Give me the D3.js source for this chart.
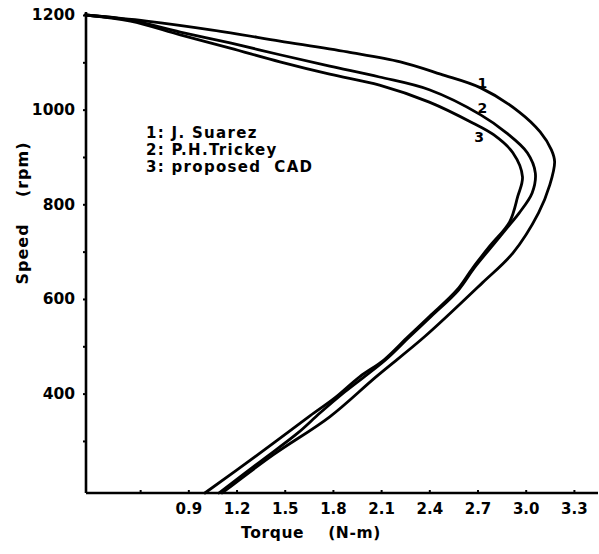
<!DOCTYPE html>
<html>
<head>
<meta charset="utf-8">
<script src="https://cdn.jsdelivr.net/npm/d3@7"></script>
<style>
  html, body { margin: 0; padding: 0; background: #fff; }
  svg { display: block; }
  text { font-family: "DejaVu Sans", sans-serif; fill: #000; }
</style>
</head>
<body>
<svg id="chart" width="599" height="554"></svg>
<script>
// ---- data ----
const xTicks = [0.6, 0.9, 1.2, 1.5, 1.8, 2.1, 2.4, 2.7, 3.0, 3.3];
const xTickLabels = ["", "0.9", "1.2", "1.5", "1.8", "2.1", "2.4", "2.7", "3.0", "3.3"];
const yTicks = [300, 400, 500, 600, 700, 800, 900, 1000, 1100, 1200];
const yTickLabels = ["", "400", "", "600", "", "800", "", "1000", "", "1200"];

const seriesNames = ["1: J. Suarez", "2: P.H.Trickey", "3: proposed  CAD"];
const curveIds = ["1", "2", "3"];

// curve 1: J. Suarez
const torque1 = [0.26, 0.64, 1.05, 1.47, 1.89, 2.22, 2.47, 2.72, 2.96, 3.09, 3.16, 3.18, 3.15, 3.08, 2.92, 2.73, 2.37, 2.07, 1.78, 1.43, 1.11];
const speed1  = [1200, 1187, 1168, 1145, 1122, 1101, 1075, 1046, 995, 953, 915, 890, 841, 782, 697, 634, 520, 436, 351, 271, 190];

// curve 2: P.H. Trickey
const torque2 = [0.26, 0.54, 0.85, 1.16, 1.47, 1.78, 2.09, 2.40, 2.72, 2.88, 3.01, 3.06, 3.04, 2.96, 2.91, 2.787, 2.681, 2.582, 2.414, 2.277, 2.127, 1.875, 1.719, 1.582, 1.346, 1.09];
const speed2  = [1200, 1189, 1164, 1141, 1116, 1092, 1069, 1042, 989, 951, 909, 866, 824, 782, 761, 710, 666, 619, 564, 520, 471, 404, 359, 317, 256, 190];

// curve 3: proposed CAD
const torque3 = [0.26, 0.54, 0.85, 1.16, 1.47, 1.78, 2.09, 2.40, 2.67, 2.80, 2.92, 2.98, 2.95, 2.90, 2.777, 2.671, 2.572, 2.404, 2.267, 2.117, 1.968, 1.812, 1.657, 1.333, 1.003];
const speed3  = [1200, 1187, 1158, 1130, 1101, 1075, 1052, 1016, 972, 947, 909, 858, 816, 763, 712, 666, 619, 564, 520, 471, 436, 391, 353, 271, 190];

// curve label positions (torque, speed)
const labelTorque = [2.73, 2.73, 2.71];
const labelSpeed  = [1057, 1003, 943];

// ---- chart ----
const svg = d3.select("#chart");
const x = d3.scaleLinear().domain([0.263, 3.45]).range([86, 598]);
const y = d3.scaleLinear().domain([190, 1200]).range([493, 15]);

// axes
const xAxis = d3.axisBottom(x).tickValues(xTicks).tickSize(4).tickFormat((d, i) => xTickLabels[i]);
const gx = svg.append("g").attr("transform", `translate(0,${y(190)})`).call(xAxis);
gx.select(".domain").attr("d", `M${x(0.263)},0H${x(3.45)}`).attr("stroke", "#000").attr("stroke-width", 2.6);
gx.selectAll(".tick line").attr("stroke", "#000").attr("stroke-width", 2).attr("y2", -3).attr("y1", 1);
gx.selectAll(".tick text").attr("y", 10).attr("dy", "0.71em")
  .style("font-size", "15px").style("font-weight", "bold").style("font-family", "DejaVu Sans");

const yAxis = d3.axisLeft(y).tickValues(yTicks).tickSize(4).tickFormat((d, i) => yTickLabels[i]);
const gy = svg.append("g").attr("transform", `translate(${x(0.263)},0)`).call(yAxis);
gy.select(".domain").attr("d", `M0,${y(190)}V${y(1200) - 3}`).attr("stroke", "#000").attr("stroke-width", 2.6);
gy.selectAll(".tick line").attr("stroke", "#000").attr("stroke-width", 2).attr("x2", -3);
gy.selectAll(".tick text").attr("x", -11)
  .style("font-size", "15.5px").style("font-weight", "bold").style("font-family", "DejaVu Sans");

// axis titles
svg.append("text")
  .attr("x", 311).attr("y", 538)
  .attr("text-anchor", "middle")
  .attr("xml:space", "preserve")
  .style("font-size", "15.5px").style("font-weight", "bold").style("letter-spacing", "0.6px")
  .text("Torque    (N-m)");

svg.append("text")
  .attr("transform", `translate(28,${213}) rotate(-90)`)
  .attr("text-anchor", "middle")
  .attr("xml:space", "preserve")
  .style("font-size", "16px").style("font-weight", "bold").style("letter-spacing", "1px")
  .text("Speed    (rpm)");

// curves
const series = [
  {t: torque1, s: speed1},
  {t: torque2, s: speed2},
  {t: torque3, s: speed3}
];
const line = d3.line()
  .x(d => x(d[0])).y(d => y(d[1]))
  .curve(d3.curveCatmullRom.alpha(0.5));

svg.append("g").selectAll("path")
  .data(series)
  .join("path")
  .attr("d", d => line(d.t.map((v, i) => [v, d.s[i]])))
  .attr("fill", "none")
  .attr("stroke", "#000")
  .attr("stroke-width", 2.8)
  .attr("stroke-linejoin", "round")
  .attr("stroke-linecap", "round");

// curve numbers
svg.append("g").selectAll("text")
  .data(curveIds)
  .join("text")
  .attr("x", (d, i) => x(labelTorque[i]))
  .attr("y", (d, i) => y(labelSpeed[i]))
  .attr("text-anchor", "middle")
  .attr("dy", "0.35em")
  .style("font-size", "14px").style("font-weight", "bold")
  .text(d => d);

// legend
svg.append("g").selectAll("text")
  .data(seriesNames)
  .join("text")
  .attr("x", 146)
  .attr("y", (d, i) => 133 + i * 17)
  .attr("dy", "0.35em")
  .attr("xml:space", "preserve")
  .style("font-size", "15px").style("font-weight", "bold").style("letter-spacing", "1.3px")
  .text(d => d);
</script>
</body>
</html>
